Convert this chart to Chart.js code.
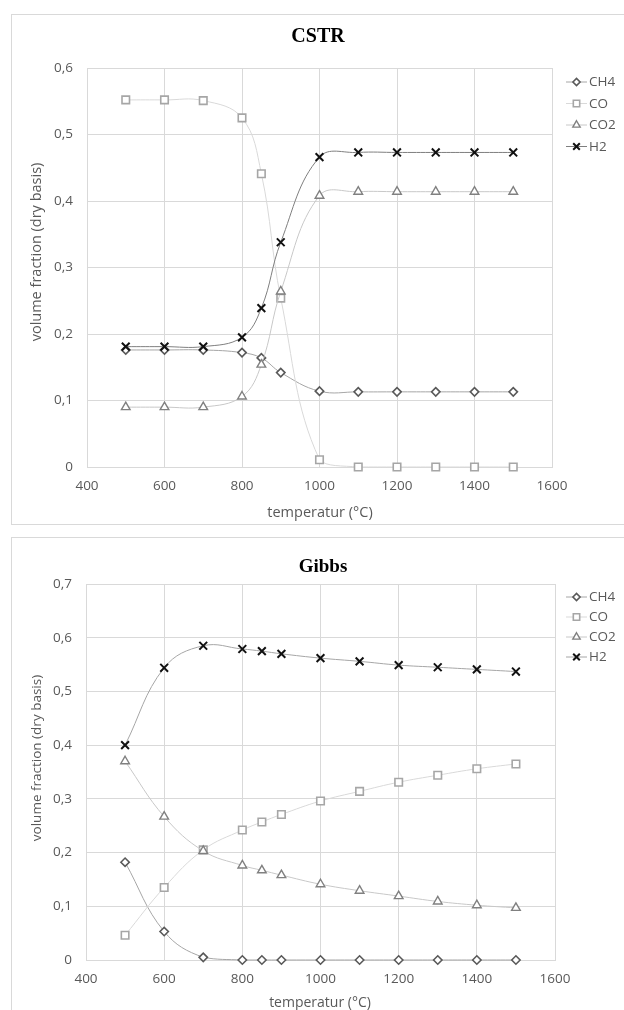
<!DOCTYPE html>
<html>
<head>
<meta charset="utf-8">
<script src="https://cdn.jsdelivr.net/npm/chart.js@4.4.1/dist/chart.umd.min.js"></script>
<style>
  html, body { margin: 0; padding: 0; background: #ffffff; width: 624px; height: 1010px; overflow: hidden; }
  .box { position: absolute; border: 1px solid #d9d9d9; box-sizing: border-box; }
  canvas { position: absolute; }
</style>
</head>
<body>
<div class="box" style="left:11px; top:14px; width:620px; height:511px;"></div>
<div class="box" style="left:11px; top:537px; width:620px; height:480px;"></div>
<canvas id="c1" width="613" height="510" style="left:11px; top:14px;"></canvas>
<canvas id="c2" width="613" height="473" style="left:11px; top:537px;"></canvas>
<script>
// ---- data ----
const temps = [500, 600, 700, 800, 850, 900, 1000, 1100, 1200, 1300, 1400, 1500];
const seriesNames = ['CH4', 'CO', 'CO2', 'H2'];

// CSTR
const cstrCH4 = [0.176, 0.176, 0.176, 0.172, 0.164, 0.142, 0.114, 0.113, 0.113, 0.113, 0.113, 0.113];
const cstrCO  = [0.552, 0.552, 0.551, 0.525, 0.441, 0.254, 0.011, 0, 0, 0, 0, 0];
const cstrCO2 = [0.090, 0.090, 0.090, 0.106, 0.154, 0.264, 0.408, 0.414, 0.414, 0.414, 0.414, 0.414];
const cstrH2  = [0.181, 0.181, 0.181, 0.195, 0.239, 0.338, 0.466, 0.473, 0.473, 0.473, 0.473, 0.473];

// Gibbs
const gibbsCH4 = [0.182, 0.053, 0.005, 0, 0, 0, 0, 0, 0, 0, 0, 0];
const gibbsCO  = [0.046, 0.135, 0.205, 0.242, 0.257, 0.271, 0.296, 0.314, 0.331, 0.344, 0.356, 0.365];
const gibbsCO2 = [0.370, 0.267, 0.203, 0.176, 0.167, 0.158, 0.141, 0.129, 0.119, 0.109, 0.102, 0.097];
const gibbsH2  = [0.400, 0.544, 0.585, 0.579, 0.575, 0.570, 0.562, 0.556, 0.549, 0.545, 0.541, 0.537];

// tick labels
const xTickLabels = ['400', '600', '800', '1000', '1200', '1400', '1600'];
const yTickLabelsCSTR = ['0', '0,1', '0,2', '0,3', '0,4', '0,5', '0,6'];
const yTickLabelsGibbs = ['0', '0,1', '0,2', '0,3', '0,4', '0,5', '0,6', '0,7'];

// ---- styles ----
const styles = [
  { pointStyle: 'rectRot',  radius: 4.2, marker: '#595959', line: '#a6a6a6', bw: 1.6 },
  { pointStyle: 'rect',     radius: 5.3, marker: '#a6a6a6', line: '#d9d9d9', bw: 1.6 },
  { pointStyle: 'triangle', radius: 5.0, marker: '#808080', line: '#c8c8c8', bw: 1.4 },
  { pointStyle: 'crossRot', radius: 5.5, marker: '#111111', line: '#7f7f7f', bw: 2.0 }
];
const FONT = '"Open Sans", "Noto Sans", sans-serif';

function makeDatasets(arrs, h2Line) {
  return arrs.map((vals, i) => {
    const s = styles[i];
    return {
      label: seriesNames[i],
      data: temps.map((t, k) => ({ x: t, y: vals[k] })),
      borderColor: i === 3 && h2Line ? h2Line : s.line,
      borderWidth: 1,
      tension: 0.4,
      pointStyle: s.pointStyle,
      pointRadius: s.radius,
      pointBorderColor: s.marker,
      pointBackgroundColor: '#ffffff',
      pointBorderWidth: s.bw,
      pointHoverRadius: s.radius,
      clip: false,
      order: 4 - i
    };
  });
}

function textPlugin(cfg) {
  return {
    id: 'texts',
    afterDraw(chart) {
      const ctx = chart.ctx;
      ctx.save();
      // title
      ctx.fillStyle = '#000000';
      ctx.font = 'bold ' + cfg.titleSize + 'px "Liberation Serif", "Times New Roman", serif';
      ctx.textAlign = 'center';
      ctx.textBaseline = 'middle';
      ctx.fillText(cfg.title, cfg.titleX, cfg.titleY);
      // x title
      ctx.fillStyle = '#595959';
      ctx.font = cfg.xTitleSize + 'px ' + FONT;
      ctx.fillText('temperatur (°C)', cfg.xTitleX, cfg.xTitleY);
      // y title
      ctx.save();
      ctx.translate(cfg.yTitleX, cfg.yTitleY);
      ctx.rotate(-Math.PI / 2);
      ctx.font = cfg.yTitleSize + 'px ' + FONT;
      ctx.fillText('volume fraction (dry basis)', 0, 0);
      ctx.restore();
      // legend
      chart.data.datasets.forEach((ds, i) => {
        const y = cfg.legY + i * cfg.legStep;
        const s = styles[i];
        ctx.strokeStyle = ds.borderColor;
        ctx.lineWidth = 1;
        ctx.beginPath();
        ctx.moveTo(cfg.legX, y);
        ctx.lineTo(cfg.legX + 21, y);
        ctx.stroke();
        ctx.strokeStyle = s.marker;
        ctx.fillStyle = '#ffffff';
        ctx.lineWidth = s.bw;
        Chart.helpers.drawPoint(ctx, { pointStyle: s.pointStyle, radius: s.radius * 0.85, borderWidth: s.bw, rotation: 0 }, cfg.legX + 10.5, y);
        ctx.fillStyle = '#595959';
        ctx.font = '13.5px ' + FONT;
        ctx.textAlign = 'left';
        ctx.textBaseline = 'middle';
        ctx.fillText(ds.label, cfg.legX + 23, y + 0.5);
      });
      ctx.restore();
    }
  };
}

function makeChart(id, datasets, yMax, yLabels, geom, cfg) {
  return new Chart(document.getElementById(id), {
    type: 'line',
    data: { datasets },
    options: {
      responsive: false,
      animation: false,
      events: [],
      layout: { padding: { left: 0, top: geom.top, right: geom.right, bottom: 0 } },
      plugins: { legend: { display: false }, title: { display: false }, tooltip: { enabled: false } },
      scales: {
        x: {
          type: 'linear',
          min: 400, max: 1600,
          ticks: {
            stepSize: 200,
            padding: 11,
            color: '#595959',
            font: { family: FONT, size: 13.5 },
            maxRotation: 0,
            callback: (v, i) => xTickLabels[i]
          },
          grid: { color: '#d9d9d9', drawTicks: false, lineWidth: 1 },
          border: { color: '#d9d9d9' },
          afterFit: (s) => { s.height = geom.xH; }
        },
        y: {
          type: 'linear',
          min: 0, max: yMax,
          ticks: {
            stepSize: 0.1,
            padding: 14,
            color: '#595959',
            font: { family: FONT, size: 13.5 },
            callback: (v, i) => yLabels[i]
          },
          grid: { color: '#d9d9d9', drawTicks: false, lineWidth: 1 },
          border: { color: '#d9d9d9' },
          afterFit: (s) => { s.width = geom.yW; }
        }
      }
    },
    plugins: [textPlugin(cfg)]
  });
}

makeChart('c1', makeDatasets([cstrCH4, cstrCO, cstrCO2, cstrH2], '#7f7f7f'), 0.6, yTickLabelsCSTR,
  { top: 54, right: 72, xH: 57, yW: 76 },
  { title: 'CSTR', titleSize: 20, titleX: 307, titleY: 23,
    xTitleX: 309, xTitleY: 499, xTitleSize: 14.5, yTitleX: 26, yTitleY: 238, yTitleSize: 14.5,
    legX: 555, legY: 68, legStep: 21.5 });

makeChart('c2', makeDatasets([gibbsCH4, gibbsCO, gibbsCO2, gibbsH2], '#a6a6a6'), 0.7, yTickLabelsGibbs,
  { top: 47, right: 69, xH: 50, yW: 75 },
  { title: 'Gibbs', titleSize: 19, titleX: 312, titleY: 30,
    xTitleX: 309, xTitleY: 466, xTitleSize: 14, yTitleX: 26, yTitleY: 221, yTitleSize: 13.5,
    legX: 555, legY: 60, legStep: 20 });
</script>
</body>
</html>
